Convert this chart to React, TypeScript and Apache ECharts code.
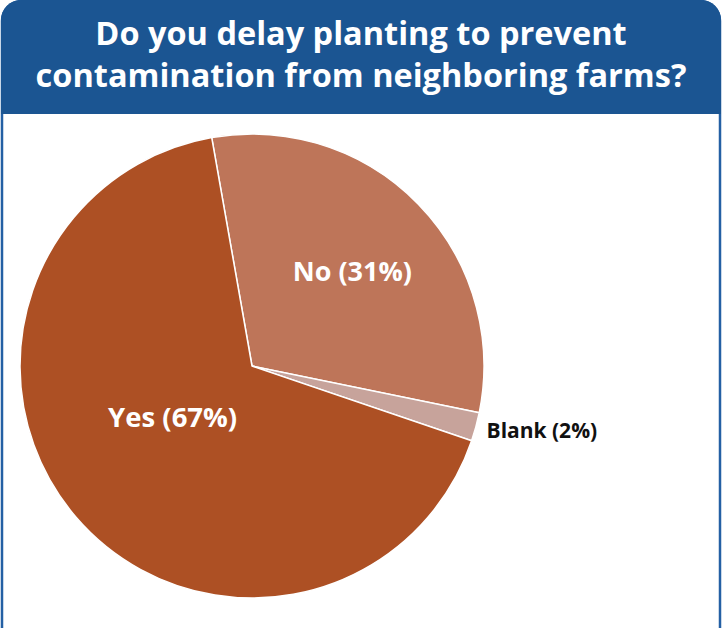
import React, { useEffect, useRef } from "react";
import * as echarts from "echarts";

const titleLines = ["Do you delay planting to prevent", "contamination from neighboring farms?"];
const categories = ["No", "Blank", "Yes"];
const values = [31, 2, 67];
const sliceColors = ["#BE7559", "#C7A39B", "#AD5024"];

export default function App() {
  const ref = useRef<HTMLDivElement>(null);
  useEffect(() => {
    document.body.style.margin = "0";
    const chart = echarts.init(ref.current!, null, { renderer: "svg" });
    const labelCfg: any[] = [
      { position: "inside", offset: [15, -13], color: "#ffffff", fontSize: 27 },
      { position: "inside", offset: [175, 33], color: "#111111", fontSize: 21 },
      { position: "inside", offset: [11, -27], color: "#ffffff", fontSize: 27.5 },
    ];
    chart.setOption({
      animation: false,
      backgroundColor: "#ffffff",
      graphic: [
        {
          type: "rect",
          shape: { x: 2, y: 1, width: 718, height: 720, r: [20, 20, 0, 0] },
          style: { fill: "#ffffff", stroke: "#2460A4", lineWidth: 2.5 },
          z: 0,
        },
        {
          type: "rect",
          shape: { x: 1, y: 0, width: 720, height: 114, r: [20, 20, 0, 0] },
          style: { fill: "#1B5592" },
          z: 1,
        },
      ],
      title: {
        text: titleLines.join("\n"),
        left: "center",
        top: 6,
        textStyle: {
          color: "#ffffff",
          fontFamily: "Open Sans",
          fontWeight: "bold",
          fontSize: 32.5,
          lineHeight: 42,
        },
        z: 10,
      },
      series: [
        {
          type: "pie",
          center: [252, 366],
          radius: 232,
          startAngle: 100,
          clockwise: true,
          z: 5,
          itemStyle: { borderColor: "#ffffff", borderWidth: 1.5 },
          labelLine: { show: false },
          emphasis: { disabled: true },
          data: categories.map((c, i) => ({
            name: c,
            value: values[i],
            itemStyle: { color: sliceColors[i] },
            label: {
              show: true,
              formatter: `${c} (${values[i]}%)`,
              fontFamily: "Open Sans",
              fontWeight: "bold",
              ...labelCfg[i],
            },
          })),
        },
      ],
    });
    return () => chart.dispose();
  }, []);
  return <div ref={ref} style={{ width: 722, height: 628 }} />;
}
